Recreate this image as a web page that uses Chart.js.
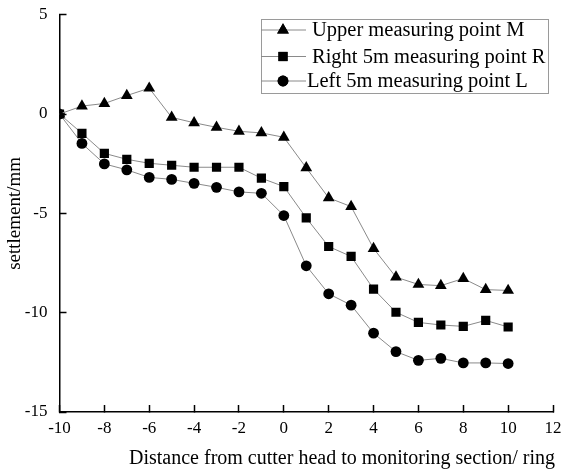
<!DOCTYPE html>
<html>
<head>
<meta charset="utf-8">
<script src="https://cdn.jsdelivr.net/npm/chart.js@4/dist/chart.umd.min.js"></script>
<style>
html,body{margin:0;padding:0;background:#fff;}
#wrap{width:561px;height:473px;position:relative;}
</style>
</head>
<body>
<div id="wrap"><canvas id="c" width="561" height="473"></canvas></div>
<script>
const distances = [-10,-9,-8,-7,-6,-5,-4,-3,-2,-1,0,1,2,3,4,5,6,7,8,9,10];
const upperM = [0,0.4,0.53,0.93,1.3,-0.17,-0.44,-0.67,-0.87,-0.95,-1.17,-2.71,-4.22,-4.66,-6.77,-8.21,-8.58,-8.64,-8.28,-8.84,-8.88];
const rightR = [0,-0.97,-1.98,-2.28,-2.48,-2.58,-2.68,-2.68,-2.68,-3.23,-3.65,-5.23,-6.67,-7.17,-8.81,-9.98,-10.49,-10.62,-10.69,-10.39,-10.72];
const leftL = [0,-1.48,-2.51,-2.81,-3.19,-3.29,-3.49,-3.69,-3.92,-3.99,-5.11,-7.64,-9.05,-9.62,-11.03,-11.96,-12.40,-12.30,-12.53,-12.53,-12.56];
const seriesLabels = ["Upper measuring point M","Right 5m measuring point R","Left 5m measuring point L"];
const xTitle = "Distance from cutter head to monitoring section/ ring";
const yTitle = "settlement/mm";

const FONT = "'Liberation Serif','Times New Roman',serif";
const styles = [
  {pointStyle:'triangle', radius:6.8},
  {pointStyle:'rect', radius:6.5},
  {pointStyle:'circle', radius:5.4}
];
function mk(vals, i){
  return {
    label: seriesLabels[i],
    data: distances.map((d,k)=>({x:d,y:vals[k]})),
    borderColor:'#8a8a8a',
    borderWidth:1,
    backgroundColor:'#000',
    pointBackgroundColor:'#000',
    pointBorderColor:'#000',
    pointBorderWidth:0,
    pointStyle:styles[i].pointStyle,
    pointRadius:styles[i].radius,
    tension:0
  };
}

const LEFT = 59.5, RIGHT = 553, TOP = 14.7, BOTTOM = 412;

const decor = {
  id:'decor',
  afterDraw(chart){
    const ctx = chart.ctx;
    const area = chart.chartArea;
    ctx.save();
    // axis titles
    ctx.fillStyle = '#000';
    ctx.font = "20px " + FONT;
    ctx.textAlign = 'center';
    ctx.textBaseline = 'middle';
    ctx.fillText(xTitle, 342, 459);
    ctx.font = "19px " + FONT;
    ctx.translate(15, (area.top+area.bottom)/2);
    ctx.rotate(-Math.PI/2);
    ctx.fillText(yTitle, 0, 0);
    ctx.restore();

    // legend
    ctx.save();
    const bx = 261, by = 19, bw = 287, bh = 74;
    ctx.strokeStyle = '#9a9a9a';
    ctx.lineWidth = 1;
    ctx.strokeRect(bx+0.5, by+0.5, bw, bh);
    const rows = [30, 56.5, 81];
    chart.data.datasets.forEach((ds,i)=>{
      const y = rows[i];
      ctx.strokeStyle = '#8a8a8a';
      ctx.lineWidth = 1;
      ctx.beginPath(); ctx.moveTo(bx, y); ctx.lineTo(306, y); ctx.stroke();
      ctx.fillStyle = '#000';
      Chart.helpers.drawPoint(ctx, {pointStyle: ds.pointStyle, radius: ds.pointRadius, borderWidth:0}, 283, y);
      ctx.fill();
      ctx.fillStyle = '#000';
      ctx.font = "20.5px " + FONT;
      ctx.textAlign = 'left';
      ctx.textBaseline = 'middle';
      ctx.fillText(ds.label, i===2 ? 307 : 312, y+1);
    });
    ctx.restore();
  }
};

const gridOpts = {display:true, drawOnChartArea:false, drawTicks:true, tickLength:-7, tickWidth:1.5, tickColor:'#000'};

new Chart(document.getElementById('c'), {
  type:'line',
  data:{datasets:[mk(upperM,0), mk(rightR,1), mk(leftL,2)]},
  options:{
    responsive:false,
    animation:false,
    devicePixelRatio:1,
    layout:{padding:{left:0, top:TOP, right:561-RIGHT, bottom:0}},
    plugins:{legend:{display:false}, tooltip:{enabled:false}},
    scales:{
      x:{
        type:'linear', min:-10, max:12,
        grid:gridOpts,
        border:{display:true, color:'#000', width:1.5},
        ticks:{stepSize:2, color:'#000', font:{family:FONT, size:17}, padding:13, maxRotation:0, autoSkip:false},
        afterFit(s){ s.height = 473 - BOTTOM; s.paddingLeft=0; s.paddingRight=0; s.paddingTop=0; s.paddingBottom=0; }
      },
      y:{
        type:'linear', min:-15, max:5,
        grid:gridOpts,
        border:{display:true, color:'#000', width:1.5},
        ticks:{stepSize:5, color:'#000', font:{family:FONT, size:17}, padding:19},
        afterFit(s){ s.width = LEFT; s.paddingLeft=0; s.paddingRight=0; s.paddingTop=0; s.paddingBottom=0; }
      }
    }
  },
  plugins:[decor]
});
</script>
</body>
</html>
